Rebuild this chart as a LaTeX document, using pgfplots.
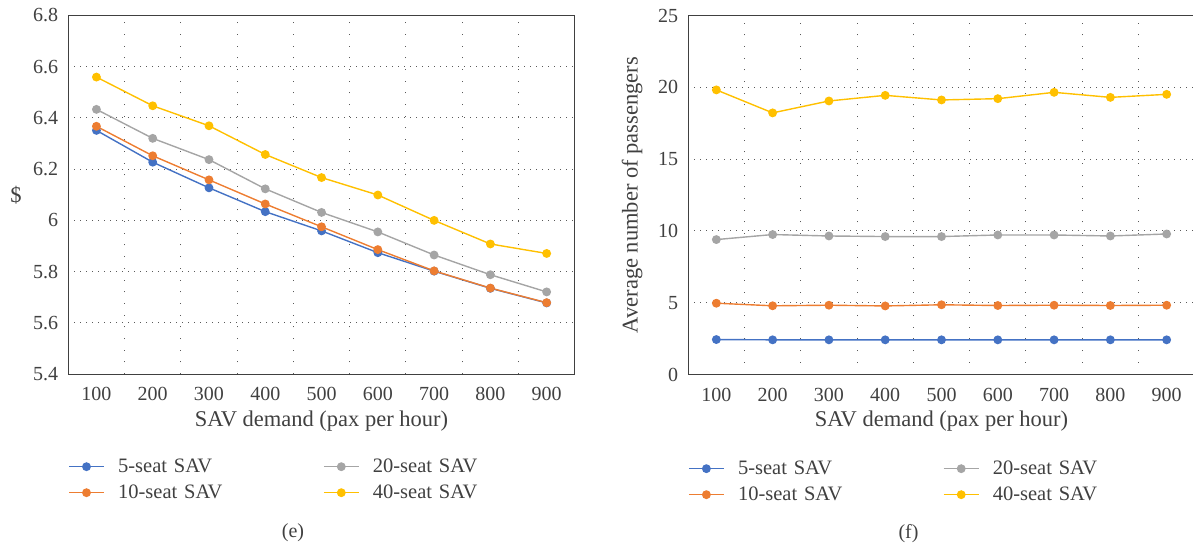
\documentclass[border=0pt]{standalone}
\usepackage{fontspec}
\setmainfont{Liberation Serif}
\usepackage{pgfplots}
\usepackage{pgfplotstable}
\pgfplotsset{compat=1.18}
\definecolor{sblue}{HTML}{4472C4}
\definecolor{sorange}{HTML}{ED7D31}
\definecolor{sgray}{HTML}{A5A5A5}
\definecolor{sgold}{HTML}{FFC000}
\definecolor{txt}{HTML}{404040}
\definecolor{gridc}{HTML}{595959}

% cost per passenger ($)
\pgfplotstableread{
x    s5     s10    s20    s40
100  6.351  6.367  6.433  6.559
200  6.227  6.252  6.320  6.447
300  6.127  6.158  6.237  6.369
400  6.034  6.064  6.123  6.257
500  5.959  5.975  6.031  6.167
600  5.874  5.886  5.955  6.099
700  5.802  5.803  5.865  6.000
800  5.735  5.736  5.788  5.908
900  5.678  5.679  5.721  5.871
}\costtab

% average number of passengers
\pgfplotstableread{
x    s5    s10   s20   s40
100  2.44  4.97  9.40  19.82
200  2.42  4.79  9.75  18.22
300  2.42  4.83  9.65  19.05
400  2.42  4.78  9.61  19.44
500  2.42  4.86  9.61  19.12
600  2.42  4.81  9.72  19.21
700  2.42  4.83  9.72  19.65
800  2.42  4.81  9.65  19.30
900  2.42  4.83  9.79  19.51
}\paxtab

\pgfplotsset{
  savstyle/.style={
    scale only axis,
    xmin=50, xmax=950,
    xtick={100,200,...,900},
    minor xtick={150,250,...,850},
    xminorgrids=true, ymajorgrids=true,
    major tick length=0pt, minor tick length=0pt,
    axis line style={draw=txt, line width=1.1pt},
    major grid style={draw=gridc, line width=1pt, dash pattern=on 1pt off 5pt},
    minor grid style={draw=gridc, line width=1pt, dash pattern=on 1pt off 10.7pt},
    tick label style={font=\fontsize{20}{24}\selectfont, text=txt},
    xticklabel style={inner sep=0pt, anchor=north, yshift=-13pt},
    yticklabel style={inner sep=0pt, anchor=east, xshift=-10pt},
    label style={font=\fontsize{22.5}{26}\selectfont, text=txt},
    xlabel style={at={(axis description cs:0.5,-0.1296)}, anchor=center},
    /pgf/number format/assume math mode=true,
    every axis plot/.append style={line width=1.4pt, mark=*, mark size=3.7pt},
    legend columns=2,
    transpose legend,
    legend cell align=left,
    legend image code/.code={\draw[mark repeat=2,mark phase=2] plot coordinates {(0pt,0pt) (17.5pt,0pt) (35pt,0pt)};},
    legend style={draw=none, fill=none, inner sep=0pt, outer sep=0pt, anchor=north west,
      font=\fontsize{20.5}{24}\selectfont, text=txt,
      nodes={inner xsep=0pt, inner ysep=0pt, text width=190pt, align=left, minimum height=26pt},
      /tikz/every odd column/.append style={column sep=13.4pt},
      /tikz/every even column/.append style={column sep=15pt}},
  },
}

\begin{document}
\begin{tikzpicture}
\begin{axis}[
    savstyle,
    at={(68.3pt,173.8pt)}, anchor=south west,
    width=506.5pt, height=358.9pt,
    ymin=5.4, ymax=6.8,
    ytick={5.4,5.6,5.8,6,6.2,6.4,6.6,6.8},
    xlabel={SAV demand (pax per hour)},
    ylabel={\$},
    ylabel style={rotate=-90, at={(axis description cs:-0.1033,0.5)}, anchor=center},
    legend style={at={(axis description cs:0,-0.2215)}},
]
\addplot[color=sblue, mark options={fill=sblue}] table[x=x, y=s5] {\costtab};
\addlegendentry{5-seat SAV}
\addplot[color=sorange, mark options={fill=sorange}] table[x=x, y=s10] {\costtab};
\addlegendentry{10-seat SAV}
\addplot[color=sgray, mark options={fill=sgray}] table[x=x, y=s20] {\costtab};
\addlegendentry{20-seat SAV}
\addplot[color=sgold, mark options={fill=sgold}] table[x=x, y=s40] {\costtab};
\addlegendentry{40-seat SAV}
\end{axis}

\begin{axis}[
    savstyle,
    at={(688.2pt,173.4pt)}, anchor=south west,
    width=506.6pt, height=359.1pt,
    ymin=0, ymax=25,
    ytick={0,5,10,15,20,25},
    xlabel={SAV demand (pax per hour)},
    ylabel={Average number of passengers},
    ylabel style={at={(axis description cs:-0.1105,0.5)}, anchor=center},
    legend style={at={(axis description cs:0,-0.2258)}},
]
\addplot[color=sblue, mark options={fill=sblue}] table[x=x, y=s5] {\paxtab};
\addlegendentry{5-seat SAV}
\addplot[color=sorange, mark options={fill=sorange}] table[x=x, y=s10] {\paxtab};
\addlegendentry{10-seat SAV}
\addplot[color=sgray, mark options={fill=sgray}] table[x=x, y=s20] {\paxtab};
\addlegendentry{20-seat SAV}
\addplot[color=sgold, mark options={fill=sgold}] table[x=x, y=s40] {\paxtab};
\addlegendentry{40-seat SAV}
\end{axis}

\node[font=\fontsize{20}{24}\selectfont, text=txt] at (293pt,15pt) {(e)};
\node[font=\fontsize{20}{24}\selectfont, text=txt] at (908.5pt,14pt) {(f)};

\pgfresetboundingbox
\path[use as bounding box] (0pt,0pt) rectangle (1193pt,548pt);
\end{tikzpicture}
\end{document}
